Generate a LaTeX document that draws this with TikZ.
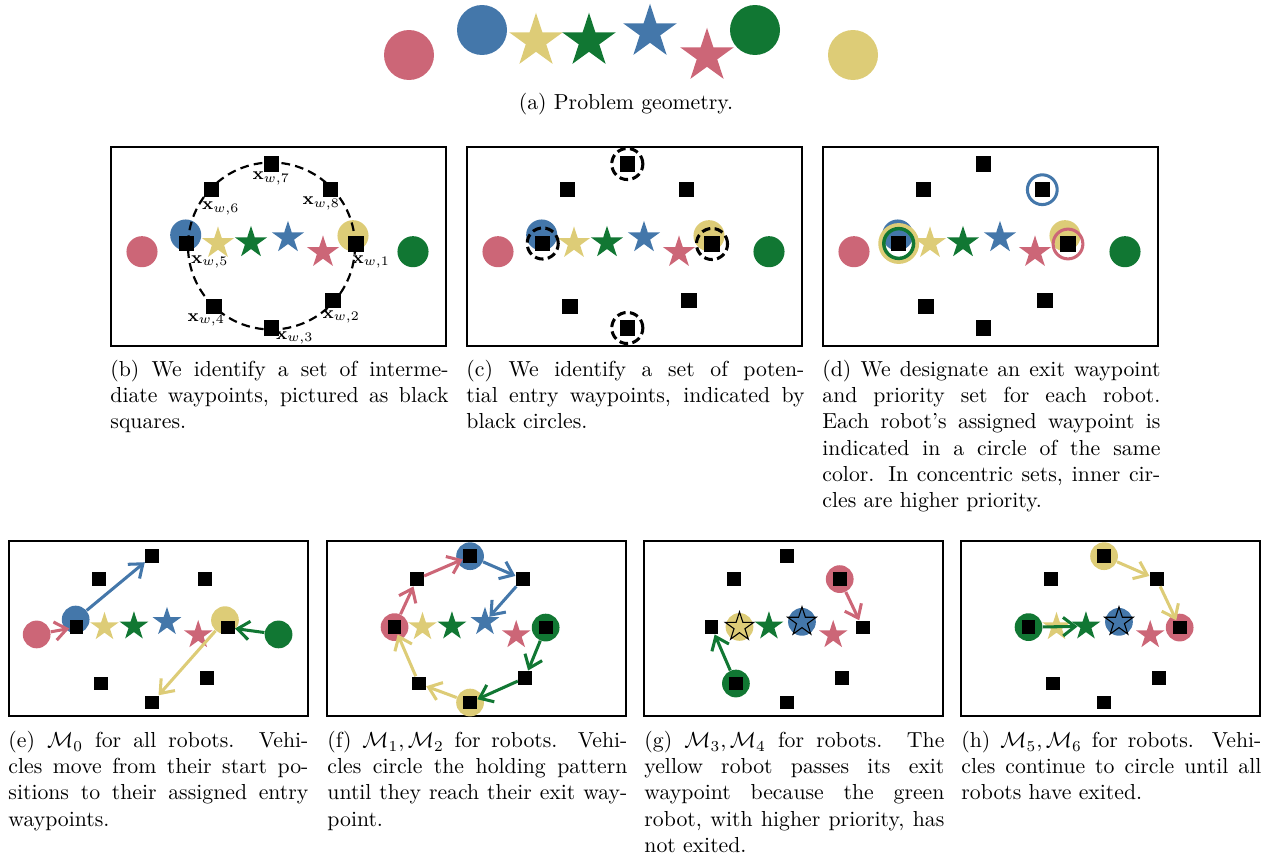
\documentclass[tikz,border=0pt]{standalone}
\usepackage{tikz}
\usepackage{xcolor}
\usetikzlibrary{positioning,arrows.meta,shapes.geometric}
\definecolor{robr}{HTML}{CC6677}
\definecolor{robb}{HTML}{4477AA}
\definecolor{roby}{HTML}{DDCC77}
\definecolor{robg}{HTML}{117733}
% field layout, in pixels from the top left corner of a frame
\def\wplist{1/245/97, 2/222/153.3, 3/160.3/181, 4/103/159.7, 5/75.7/96.5, 6/100.7/42.7, 7/160.3/17, 8/219.3/42.7}
\def\goallist{y/107/96.3, g/140/95.6, b/177/90.6, r/212/105.3}
\def\startlist{r/31/104.7, b/74.7/88, y/242/88.7, g/302/104.7}
\tikzset{
  field/.style   ={draw=black, line width=0.9pt},
  robot/.style   ={circle, inner sep=0pt, minimum size=14.3pt},
  bigrobot/.style={robot, minimum size=23pt},
  goal/.style    ={star, star points=5, star point ratio=2.618, inner sep=0pt,
                   minimum size=15.5pt},
  biggoal/.style ={goal, minimum size=26pt},
  reached/.style ={goal, draw=black, line width=0.5pt},
  wp/.style      ={fill=black, inner sep=0pt, minimum size=7.1pt},
  wlabel/.style  ={font=\footnotesize, inner sep=0pt},
  hold/.style    ={draw=black, line width=1pt, dash pattern=on 4pt off 2.4pt},
  entry/.style   ={circle, draw=black, line width=1.4pt, dash pattern=on 4pt off 2pt,
                   inner sep=0pt, minimum size=14.3pt},
  exitring/.style={circle, line width=1.4pt, inner sep=0pt, minimum size=13.7pt},
  move/.style    ={line width=1.4pt, -{Straight Barb[length=5.5pt,width=8.5pt]}},
  capt/.style    ={anchor=north west, inner sep=0pt, text width=155.5pt, align=justify},
  captsm/.style  ={capt, text width=138pt},
}
\begin{document}
\begin{tikzpicture}[x=0.46pt, y=-0.46pt]
  \useasboundingbox (0,0) rectangle (1276,853);

  % (a) problem geometry
  \node[bigrobot, fill=robr] (a-rr) at (409,55) {};
  \node[bigrobot, fill=robb] (a-rb) at (482,30) {};
  \node[biggoal, fill=roby] (a-sy) at (536,41) {};
  \node[biggoal, fill=robg] (a-sg) at (589,41) {};
  \node[biggoal, fill=robb] (a-sb) at (650,32) {};
  \node[biggoal, fill=robr] (a-sr) at (707,56) {};
  \node[bigrobot, fill=robg] (a-rg) at (755,30) {};
  \node[bigrobot, fill=roby] (a-ry) at (853,55) {};
  \node[anchor=base] (a-cap) at (626,110) {(a) Problem geometry.};

  % (b) holding pattern
  \begin{scope}[shift={(111,147)}]
    \draw[field] (0,0) rectangle (335,199);
    \foreach \c/\x/\y in \startlist {\node[robot, fill=rob\c] (b-r\c) at (\x,\y) {};}
    \foreach \c/\x/\y in \goallist {\node[goal, fill=rob\c] (b-s\c) at (\x,\y) {};}
    \draw[hold] (160.5,99) circle[radius=83.5];
    \foreach \k/\x/\y in \wplist {\node[wp] (b-w\k) at (\x,\y) {};}
    \foreach \k/\x/\y in {1/260.3/114.7, 2/230.3/169.7, 3/183.7/190.7, 4/95.3/173,
                          5/98.7/114.7, 6/109.7/61.3, 7/160.3/31.3, 8/210.3/56.3} {
      \node[wlabel] (b-l\k) at (\x,\y) {$\mathbf{x}_{w,\k}$};
    }
  \end{scope}

  % (c) entry waypoints
  \begin{scope}[shift={(467,147)}]
    \draw[field] (0,0) rectangle (335,199);
    \foreach \c/\x/\y in \startlist {\node[robot, fill=rob\c] (c-r\c) at (\x,\y) {};}
    \foreach \c/\x/\y in \goallist {\node[goal, fill=rob\c] (c-s\c) at (\x,\y) {};}
    \foreach \k/\x/\y in \wplist {\node[wp] (c-w\k) at (\x,\y) {};}
    \foreach \k in {1,3,5,7} {\node[entry] (c-e\k) at (c-w\k) {};}
  \end{scope}

  % (d) exit waypoints and priorities
  \begin{scope}[shift={(823,147)}]
    \draw[field] (0,0) rectangle (335,199);
    \foreach \c/\x/\y in \startlist {\node[robot, fill=rob\c] (d-r\c) at (\x,\y) {};}
    \foreach \c/\x/\y in \goallist {\node[goal, fill=rob\c] (d-s\c) at (\x,\y) {};}
    \foreach \k/\x/\y in \wplist {\node[wp] (d-w\k) at (\x,\y) {};}
    \node[exitring, draw=robb] (d-xb) at (d-w8) {};
    \node[exitring, draw=roby, line width=2.3pt, minimum size=16.5pt] (d-xy) at (d-w5) {};
    \node[exitring, draw=robg, line width=1.6pt] (d-xg) at (d-w5) {};
    \node[exitring, draw=robr] (d-xr) at (d-w1) {};
  \end{scope}

  % (e) M0
  \begin{scope}[shift={(9,541)}, scale=0.8925, transform shape]
    \draw[field] (0,0) rectangle (335,196);
    \foreach \c/\x/\y in \startlist {\node[robot, fill=rob\c] (e-r\c) at (\x,\y) {};}
    \foreach \c/\x/\y in \goallist {\node[goal, fill=rob\c] (e-s\c) at (\x,\y) {};}
    \foreach \k/\x/\y in \wplist {\node[wp] (e-w\k) at (\x,\y) {};}
    \draw[move, draw=robb] (e-rb) -- (e-w7);
    \draw[move, draw=robr] (e-rr) -- (e-w5);
    \draw[move, draw=robg] (e-rg) -- (e-w1);
    \draw[move, draw=roby] (e-ry) -- (e-w3);
  \end{scope}

  % (f) M1, M2
  \begin{scope}[shift={(327,541)}, scale=0.8925, transform shape]
    \draw[field] (0,0) rectangle (335,196);
    \foreach \k/\x/\y in \wplist {\coordinate (f-p\k) at (\x,\y);}
    \node[robot, fill=robr] (f-rr) at (f-p5) {};
    \node[robot, fill=robb] (f-rb) at (f-p7) {};
    \node[robot, fill=robg] (f-rg) at (f-p1) {};
    \node[robot, fill=roby] (f-ry) at (f-p3) {};
    \foreach \c/\x/\y in \goallist {\node[goal, fill=rob\c] (f-s\c) at (\x,\y) {};}
    \foreach \k/\x/\y in \wplist {\node[wp] (f-w\k) at (\x,\y) {};}
    \draw[move, draw=robr] (f-rr) -- (f-w6);
    \draw[move, draw=robr] (f-w6) -- (f-w7);
    \draw[move, draw=robb] (f-rb) -- (f-w8);
    \draw[move, draw=robb] (f-w8) -- (f-sb);
    \draw[move, draw=robg] (f-rg) -- (f-w2);
    \draw[move, draw=robg] (f-w2) -- (f-w3);
    \draw[move, draw=roby] (f-ry) -- (f-w4);
    \draw[move, draw=roby] (f-w4) -- (f-w5);
  \end{scope}

  % (g) M3, M4
  \begin{scope}[shift={(644,541)}, scale=0.8925, transform shape]
    \draw[field] (0,0) rectangle (335,196);
    \foreach \k/\x/\y in \wplist {\coordinate (g-p\k) at (\x,\y);}
    \foreach \c/\x/\y in \goallist {\node[goal, fill=rob\c] (g-s\c) at (\x,\y) {};}
    \node[robot, fill=robr] (g-rr) at (g-p8) {};
    \node[robot, fill=robg] (g-rg) at (g-p4) {};
    \node[robot, fill=roby] (g-ry) at (g-sy) {};
    \node[robot, fill=robb] (g-rb) at (g-sb) {};
    \node[reached, fill=roby] (g-dy) at (g-sy) {};
    \node[reached, fill=robb] (g-db) at (g-sb) {};
    \foreach \k/\x/\y in \wplist {\node[wp] (g-w\k) at (\x,\y) {};}
    \draw[move, draw=robr] (g-rr) -- (g-w1);
    \draw[move, draw=robg] (g-rg) -- (g-w5);
  \end{scope}

  % (h) M5, M6
  \begin{scope}[shift={(961,541)}, scale=0.8925, transform shape]
    \draw[field] (0,0) rectangle (335,196);
    \foreach \k/\x/\y in \wplist {\coordinate (h-p\k) at (\x,\y);}
    \foreach \c/\x/\y in \goallist {\node[goal, fill=rob\c] (h-s\c) at (\x,\y) {};}
    \node[robot, fill=robg] (h-rg) at (h-p5) {};
    \node[robot, fill=roby] (h-ry) at (h-p7) {};
    \node[robot, fill=robr] (h-rr) at (h-p1) {};
    \node[robot, fill=robb] (h-rb) at (h-sb) {};
    \node[reached, fill=robb] (h-db) at (h-sb) {};
    \foreach \k/\x/\y in \wplist {\node[wp] (h-w\k) at (\x,\y) {};}
    \draw[move, draw=robg] (h-rg) -- (h-sg);
    \draw[move, draw=roby] (h-ry) -- (h-w8);
    \draw[move, draw=roby] (h-w8) -- (h-w1);
  \end{scope}

  % captions
  \node[capt] (b-cap) at (110,360) {(b) We identify a set of interme-\linebreak
    diate waypoints, pictured as black\linebreak squares.};
  \node[capt] (c-cap) at (466,360) {(c) We identify a set of poten-\linebreak
    tial entry waypoints, indicated by\linebreak black circles.};
  \node[capt] (d-cap) at (822,360) {(d) We designate an exit waypoint\linebreak
    and priority set for each robot.\linebreak Each robot's assigned waypoint is\linebreak
    indicated in a circle of the same\linebreak color. In concentric sets, inner cir-\linebreak
    cles are higher priority.};
  \node[captsm] (e-cap) at (8,731) {(e) $\mathcal{M}_0$ for all robots. Vehi-\linebreak
    cles move from their start po-\linebreak sitions to their assigned entry\linebreak
    waypoints.};
  \node[captsm] (f-cap) at (327,731) {(f) $\mathcal{M}_1, \mathcal{M}_2$ for robots. Vehi-\linebreak
    cles circle the holding pattern\linebreak until they reach their exit way-\linebreak
    point.};
  \node[captsm] (g-cap) at (644,731) {(g) $\mathcal{M}_3, \mathcal{M}_4$ for robots. The\linebreak
    yellow robot passes its exit\linebreak waypoint because the green\linebreak
    robot, with higher priority, has\linebreak not exited.};
  \node[captsm] (h-cap) at (961,731) {(h) $\mathcal{M}_5, \mathcal{M}_6$ for robots. Vehi-\linebreak
    cles continue to circle until all\linebreak robots have exited.};
\end{tikzpicture}
\end{document}
